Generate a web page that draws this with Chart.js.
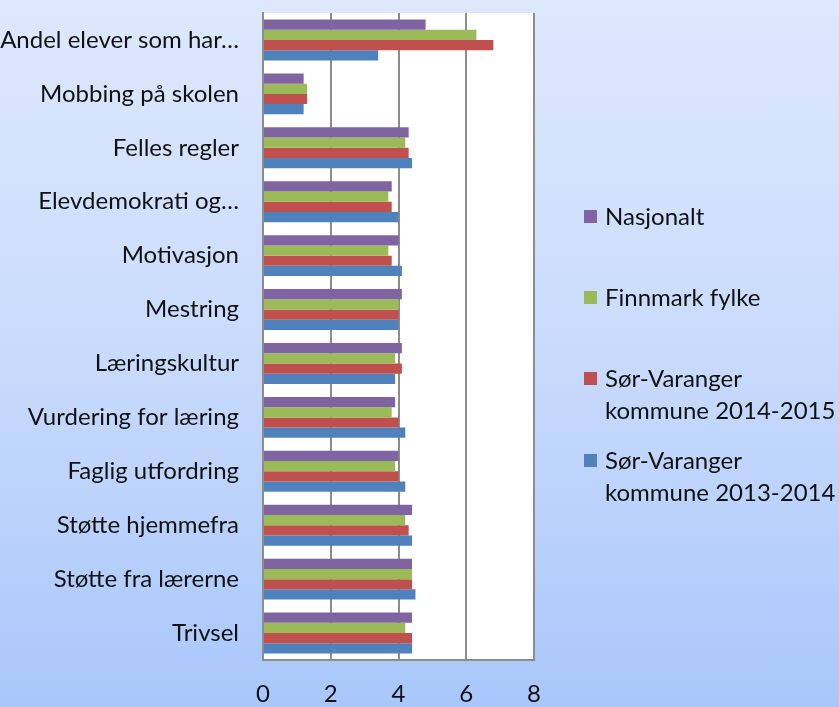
<!DOCTYPE html>
<html>
<head>
<meta charset="utf-8">
<script src="https://cdn.jsdelivr.net/npm/chart.js@4.4.1/dist/chart.umd.min.js"></script>
<style>
    html, body { margin: 0; padding: 0; }
    body {
        width: 839px; height: 707px; overflow: hidden; position: relative;
        background: linear-gradient(to bottom, #dde8fd 0%, #c9dbfc 50%, #a9c7fb 100%);
        font-family: Lato, "Open Sans", sans-serif;
    }
    #wrap { position: absolute; left: 0; top: 0; width: 839px; height: 707px; }
    #legend { position: absolute; left: 584px; top: 0; font-size: 24px; color: #111; }
    .item { position: absolute; left: 0; white-space: nowrap; line-height: 32px; }
    .box { position: absolute; left: 0; top: 10px; width: 13px; height: 13px; }
    .txt { position: absolute; left: 21px; top: 0; }
</style>
</head>
<body>
<div id="wrap"><canvas id="myChart" width="839" height="707"></canvas></div>
<div id="legend"></div>
<script>
// categories, top to bottom
const labels = ['Andel elever som har…', 'Mobbing på skolen', 'Felles regler', 'Elevdemokrati og…',
    'Motivasjon', 'Mestring', 'Læringskultur', 'Vurdering for læring', 'Faglig utfordring',
    'Støtte hjemmefra', 'Støtte fra lærerne', 'Trivsel'];

const nasjonalt   = [4.8, 1.2, 4.3, 3.8, 4.0, 4.1, 4.1, 3.9, 4.0, 4.4, 4.4, 4.4];
const finnmark    = [6.3, 1.3, 4.2, 3.7, 3.7, 4.0, 3.9, 3.8, 3.9, 4.2, 4.4, 4.2];
const sv20142015  = [6.8, 1.3, 4.3, 3.8, 3.8, 4.0, 4.1, 4.0, 4.0, 4.3, 4.4, 4.4];
const sv20132014  = [3.4, 1.2, 4.4, 4.0, 4.1, 4.0, 3.9, 4.2, 4.2, 4.4, 4.5, 4.4];

const seriesNames = ['Nasjonalt', 'Finnmark fylke', 'Sør-Varanger\nkommune 2014-2015', 'Sør-Varanger\nkommune 2013-2014'];
const seriesColors = ['#8064a2', '#9bbb59', '#c0504d', '#4f81bd'];
const xTicks = [0, 2, 4, 6, 8];

const data = {
    labels: labels,
    datasets: [nasjonalt, finnmark, sv20142015, sv20132014].map((vals, i) => ({
        label: seriesNames[i],
        data: vals,
        backgroundColor: seriesColors[i],
        borderWidth: 0,
        categoryPercentage: 0.76,
        barPercentage: 1.0
    }))
};

const plotBg = {
    id: 'plotBg',
    beforeDraw(chart) {
        const a = chart.chartArea, ctx = chart.ctx;
        ctx.save();
        ctx.fillStyle = '#ffffff';
        ctx.fillRect(a.left, a.top, a.right - a.left, a.bottom - a.top);
        ctx.restore();
    }
};

const config = {
    type: 'bar',
    data: data,
    options: {
        indexAxis: 'y',
        responsive: false,
        animation: false,
        layout: { padding: { top: 13, right: 305, left: 0, bottom: 0 } },
        plugins: { legend: { display: false }, tooltip: { enabled: false } },
        scales: {
            x: {
                min: 0, max: 8,
                afterBuildTicks: s => { s.ticks = xTicks.map(v => ({ value: v })); },
                afterFit: s => { s.height = 47; },
                grid: { color: '#8c8c8c', lineWidth: 2, drawTicks: false },
                border: { display: true, color: '#8c8c8c', width: 2 },
                ticks: { padding: 20, color: '#111', font: { family: 'Lato', size: 24 } }
            },
            y: {
                afterFit: s => { s.width = 263; s.paddingTop = 0; s.paddingBottom = 0; },
                grid: { display: false, drawTicks: false },
                border: { display: true, color: '#8c8c8c', width: 2 },
                ticks: { padding: 24, color: '#111', font: { family: 'Lato', size: 24 } }
            }
        }
    },
    plugins: [plotBg]
};

var myChart = new Chart(document.getElementById('myChart'), config);

// legend
const legendTops = [200, 281, 362, 444];
const legend = document.getElementById('legend');
seriesNames.forEach((name, i) => {
    const item = document.createElement('div');
    item.className = 'item';
    item.style.top = legendTops[i] + 'px';
    item.innerHTML = '<div class="box" style="background:' + seriesColors[i] + '"></div>' +
        '<div class="txt">' + name.split('\n').join('<br>') + '</div>';
    legend.appendChild(item);
});
</script>
</body>
</html>
